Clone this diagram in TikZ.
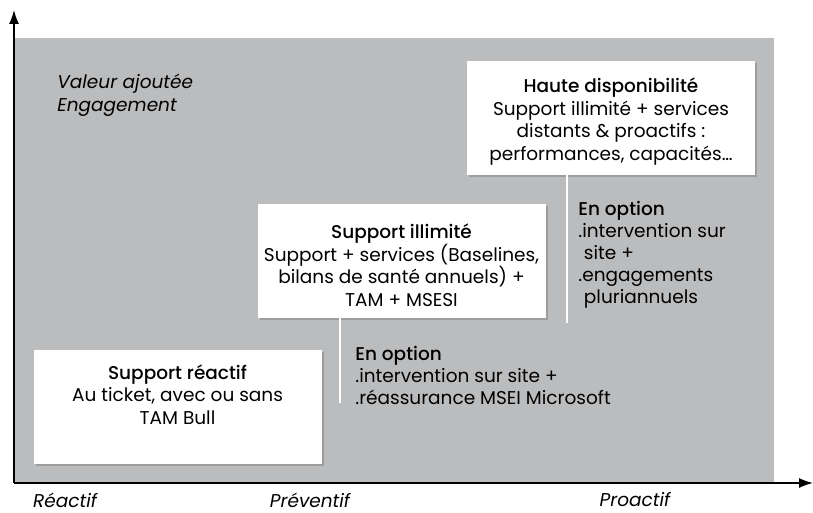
\documentclass[tikz,border=0pt]{standalone}
\usepackage{fontspec}
\setmainfont{Poppins}[BoldFont={Poppins Medium}]
\usetikzlibrary{positioning,shadows,arrows.meta}
\definecolor{fond}{HTML}{BBBCBE}
\begin{document}
\begin{tikzpicture}[
       x=1pt,y=1pt,
       thick,
       boite/.style={
         rectangle,
         fill=white,
         minimum width=288,
         minimum height=114,
         drop shadow={shadow xshift=2pt,shadow yshift=-2pt,fill=black!50}
       },
       texte/.style={
         align=center,
         inner sep=0pt,
         font=\fontsize{18.5}{22.5}\selectfont
       },
       option/.style={
         align=left,
         anchor=north west,
         inner sep=0pt,
         font=\fontsize{18.5}{22}\selectfont
       },
       legende/.style={
         inner sep=0pt,
         font=\fontsize{18.5}{23}\selectfont\itshape
       },
       fil/.style={white,line width=1.2pt},
       axe/.style={-{Latex[length=14pt,width=10pt]},line width=1.5pt}
     ]

       \useasboundingbox (0,0) rectangle (813,513);
       \fill[fond] (14,30) rectangle (774,475);

       \coordinate (o) at (14,30);
       \coordinate (ymax) at (14,503);
       \coordinate (xmax) at (813,30);

       \node (b1) at (177.5,105.5) [boite]{};
       \node (b2) at (401.5,252) [boite]{};
       \node (b3) at (611,395) [boite]{};

       \node (t1) [texte,below=14pt of b1.north]{\textbf{Support réactif}\\Au ticket, avec ou sans\\TAM Bull};
       \node (t2) [texte,below=20pt of b2.north]{\textbf{Support illimité}\\Support + services (Baselines,\\bilans de santé annuels) +\\TAM + MSESI};
       \node (t3) [texte,below=17pt of b3.north]{\textbf{Haute disponibilité}\\Support illimité + services\\distants \& proactifs :\\performances, capacités…};

       \coordinate (f2) at (340,110);
       \coordinate (f3) at (567,190);
       \draw[fil] (b2.south -| f2) -- (f2);
       \draw[fil] (b3.south -| f3) -- (f3);

       \node (o2) at (355,167) [option]{\textbf{En option}\\.intervention sur site +\\.réassurance MSEI Microsoft};
       \node (o3) at (578,312) [option]{\textbf{En option}\\.intervention sur\\\hspace*{0.3em}site +\\.engagements\\\hspace*{0.3em}pluriannuels};

       \node (va) at (57,439) [legende,align=left,anchor=north west]{Valeur ajoutée\\Engagement};
       \node (reactif) at (65,13) [legende]{Réactif};
       \node (preventif) at (310,13) [legende]{Préventif};
       \node (proactif) at (635,13) [legende]{Proactif};

       \draw[axe] (o) -- (ymax);
       \draw[axe] (o) -- (xmax);

\end{tikzpicture}
\end{document}
